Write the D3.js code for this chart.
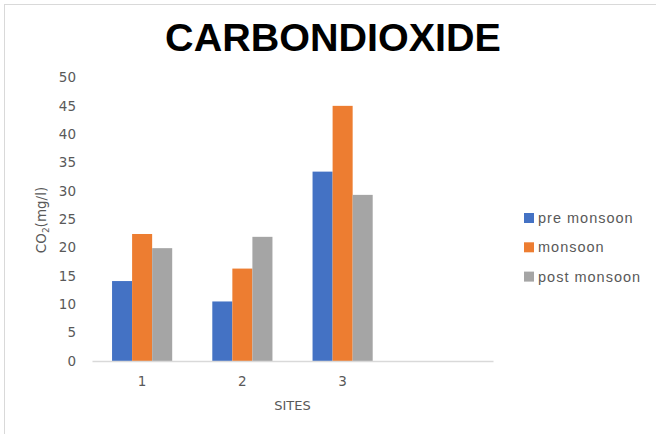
<!DOCTYPE html>
<html>
<head>
<meta charset="utf-8">
<script src="https://cdn.jsdelivr.net/npm/d3@7"></script>
<style>
  html, body { margin: 0; padding: 0; background: #fff; }
  svg { display: block; }
</style>
</head>
<body>
<svg id="chart" width="656" height="434"></svg>
<script>
// Sites on the category axis (the last slot is left empty)
const sites = ["1", "2", "3", ""];
// Season series and their CO2 values (mg/l) per site
const seasons = ["pre monsoon", "monsoon", "post monsoon"];
const preMonsoon = [14.1, 10.5, 33.4];
const monsoon = [22.4, 16.3, 45.0];
const postMonsoon = [19.9, 21.9, 29.3];
const seasonValues = [preMonsoon, monsoon, postMonsoon];
const seasonColors = ["#4472C4", "#ED7D31", "#A5A5A5"];
// Value axis ticks
const yTicks = [0, 5, 10, 15, 20, 25, 30, 35, 40, 45, 50];

const svg = d3.select("#chart");

// Outer chart frame
svg.append("rect")
  .attr("x", 4.5).attr("y", 4.5)
  .attr("width", 660).attr("height", 440)
  .attr("fill", "#fff")
  .attr("stroke", "#d9d9d9").attr("stroke-width", 1);

const x = d3.scaleBand().domain(sites).range([92, 493]).padding(0);
const xInner = d3.scaleBand().domain(seasons).range([0, x.bandwidth()]).paddingOuter(1).paddingInner(0);
const y = d3.scaleLinear().domain([0, 50]).range([361, 77.5]);

// Title
svg.append("text")
  .attr("x", 333).attr("y", 51)
  .attr("text-anchor", "middle")
  .attr("font-family", "Liberation Sans, Arial, sans-serif")
  .attr("font-weight", "bold")
  .attr("font-size", 39.5)
  .attr("fill", "#000")
  .text("CARBONDIOXIDE");

// Bars
const rows = [];
seasons.forEach((s, si) => {
  seasonValues[si].forEach((v, ci) => rows.push({ site: sites[ci], season: s, value: v, color: seasonColors[si] }));
});
svg.append("g").selectAll("rect")
  .data(rows)
  .join("rect")
  .attr("x", d => x(d.site) + xInner(d.season))
  .attr("y", d => y(d.value))
  .attr("width", xInner.bandwidth())
  .attr("height", d => y(0) - y(d.value))
  .attr("fill", d => d.color);

// Y axis (labels only)
const yAxis = svg.append("g")
  .attr("transform", "translate(76,0)")
  .call(d3.axisLeft(y).tickValues(yTicks).tickSize(0).tickPadding(0));
yAxis.select(".domain").remove();
yAxis.selectAll("text")
  .attr("font-family", "DejaVu Sans, sans-serif")
  .attr("font-size", 13.5)
  .attr("fill", "#595959");

// X axis
const xAxis = svg.append("g")
  .attr("transform", "translate(0,361)")
  .call(d3.axisBottom(x).tickSize(0).tickPadding(15));
xAxis.select(".domain").attr("stroke", "#d9d9d9").attr("stroke-width", 1.3);
xAxis.selectAll("text")
  .attr("font-family", "DejaVu Sans, sans-serif")
  .attr("font-size", 13.5)
  .attr("fill", "#595959");

// Axis titles
svg.append("text")
  .attr("x", (92 + 493) / 2).attr("y", 410)
  .attr("text-anchor", "middle")
  .attr("font-family", "DejaVu Sans, sans-serif")
  .attr("font-size", 13)
  .attr("fill", "#595959")
  .text("SITES");

const yTitle = svg.append("text")
  .attr("transform", "translate(46,220) rotate(-90)")
  .attr("text-anchor", "middle")
  .attr("font-family", "DejaVu Sans, sans-serif")
  .attr("font-size", 13.5)
  .attr("fill", "#595959");
yTitle.append("tspan").text("CO");
yTitle.append("tspan").attr("font-size", 9).attr("dy", 3).text("2");
yTitle.append("tspan").attr("dy", -3).text("(mg/l)");

// Legend
const legend = svg.append("g").selectAll("g")
  .data(seasons)
  .join("g")
  .attr("transform", (d, i) => `translate(524,${218 + i * 29.3})`);
legend.append("rect")
  .attr("x", 0).attr("y", -5)
  .attr("width", 10).attr("height", 10)
  .attr("fill", (d, i) => seasonColors[i]);
legend.append("text")
  .attr("x", 14).attr("y", 5)
  .attr("font-family", "Liberation Sans, Arial, sans-serif")
  .attr("font-size", 14.5)
  .attr("letter-spacing", 1)
  .attr("fill", "#595959")
  .text(d => d);
</script>
</body>
</html>
